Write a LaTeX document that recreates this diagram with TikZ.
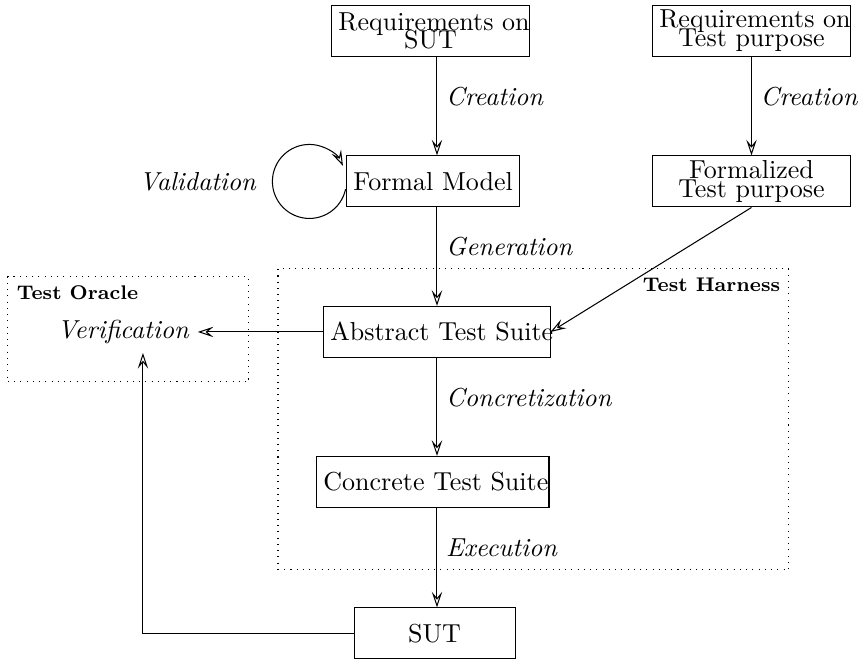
\documentclass[tikz,border=0pt]{standalone}
\usepackage{tikz}
\usetikzlibrary{arrows.meta,positioning}
\newcommand{\tightlines}{\linespread{0.6}\selectfont\lineskiplimit=-20pt\hyphenpenalty=10000\relax}

\tikzset{
  block/.style={draw, align=center, inner xsep=2.5pt, inner ysep=1pt,
                minimum height=0.69cm, font=\tightlines},
  flow/.style={-{Stealth[open,length=6pt,width=4pt,inset=2.4pt]}},
  act/.style={font=\itshape},
  zone/.style={draw, dotted, inner sep=0pt},
  zonetitle/.style={font=\fontsize{7.6pt}{9pt}\selectfont\bfseries, inner sep=3.4pt}
}

\begin{document}
\begin{tikzpicture}
            \useasboundingbox (0,0) rectangle (11.662,8.932);
            \node[zone, minimum width=6.905cm, minimum height=4.068cm] (harness) at (7.209,3.264) {};
            \node[zone, minimum width=3.257cm, minimum height=1.419cm] (oracle) at (1.736,4.480) {};
            \node[zonetitle, anchor=north east] (harnesstitle) at (harness.north east) {Test~Harness};
            \node[zonetitle, anchor=north west] (oracletitle) at (oracle.north west) {Test~Oracle};
            \node[block, text width=2.49cm] (reqsut) at (5.818,8.514) {Requirements~on\\SUT};
            \node[block, text width=2.49cm] (reqtp) at (10.155,8.514) {Requirements~on\\Test~purpose};
            \node[block, text width=2.15cm] (fm) at (5.851,6.480) {Formal~Model};
            \node[block, text width=2.49cm] (ftp) at (10.155,6.480) {Formalized\\Test~purpose};
            \node[block, text width=2.88cm] (ats) at (5.905,4.446) {Abstract~Test~Suite};
            \node[block, text width=2.96cm] (cts) at (5.851,2.419) {Concrete~Test~Suite};
            \node[block, text width=2.0cm] (sut) at (5.872,0.372) {SUT};
            \node[act] (ver) at (1.662,4.446) {Verification};
            \node[act, left=1.1cm of fm] (val) {Validation};
            \coordinate (spine) at (5.905,0);
            \draw[flow] (reqsut.south -| spine) -- node[act, pos=0.4, right] {Creation} (fm.north -| spine);
            \draw[flow] (fm.south -| spine) -- node[act, pos=0.4, right] {Generation} (ats.north -| spine);
            \draw[flow] (ats.south -| spine) -- node[act, pos=0.4, right] {Concretization} (cts.north -| spine);
            \draw[flow] (cts.south -| spine) -- node[act, pos=0.4, right] {Execution} (sut.north -| spine);
            \draw[flow] (reqtp) -- node[act, pos=0.4, right] {Creation} (ftp);
            \draw[flow] (ftp.south) -- (ats.east);
            \draw[flow] (ats) -- (ver);
            \draw[flow] (sut.west) -| ([xshift=0.27cm]ver.south);
            \draw[flow] ([xshift=-0.011cm,yshift=-0.104cm]fm.west) arc[start angle=-12, end angle=-335, radius=0.5cm];
        \end{tikzpicture}
\end{document}
